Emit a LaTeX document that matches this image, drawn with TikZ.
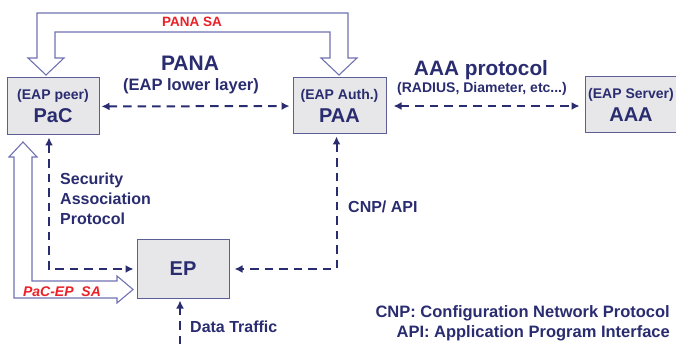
\documentclass[tikz,border=0pt]{standalone}
\usepackage{fontspec}
\setmainfont{Liberation Sans}
\usetikzlibrary{arrows.meta}
\definecolor{navy}{RGB}{42, 44, 112}
\definecolor{boxgray}{RGB}{231, 231, 233}
\definecolor{boxline}{RGB}{92, 94, 150}
\definecolor{saline}{RGB}{112, 114, 178}
\definecolor{sared}{RGB}{236, 32, 40}
\newcommand{\fsz}[1]{\fontsize{#1}{1.15\dimexpr#1pt\relax}\selectfont}
\tikzset{
    entity/.style={draw=boxline, fill=boxgray, line width=1pt,
        minimum width=92pt, minimum height=57pt, inner sep=0pt,
        align=center, text=navy, font=\bfseries\fsz{20}},
    link/.style={navy, line width=2pt, dash pattern=on 8.5pt off 6pt},
    hollow/.style={draw=saline, fill=white, line width=1.1pt, line join=miter},
    caption/.style={text=navy, font=\bfseries, inner sep=0pt},
    salabel/.style={text=sared, font=\bfseries, inner sep=0pt},
    >={Latex[length=8pt, width=8pt]}
}

\begin{document}
\begin{tikzpicture}[x=1pt, y=-1pt]

    \useasboundingbox (0, 0) rectangle (676, 344);

    % security associations (hollow arrows)
    \draw[hollow]
        (37, 58) -- (37, 13) -- (348, 13) -- (348, 58) -- (357, 58) --
        (339, 75) -- (321, 58) -- (330, 58) -- (330, 32) -- (55, 32) --
        (55, 58) -- (64, 58) -- (46, 75) -- (28, 58) -- cycle;
    \node[salabel, font=\bfseries\fsz{13.5}] (panasa) at (192, 22) {PANA SA};

    \draw[hollow]
        (32, 157) -- (32, 281) -- (117, 281) -- (117, 276) -- (133, 289.5) --
        (117, 303) -- (117, 298) -- (14, 298) -- (14, 157) -- (9, 157) --
        (23, 142) -- (37, 157) -- cycle;
    \node[salabel, font=\bfseries\itshape\fsz{14}] (pacepsa) at (62, 292) {PaC-EP\ \ SA};

    % entities
    \node[entity] (pac) at (53, 106.5)
        {{\fsz{14}(EAP peer)}\\PaC};
    \node[entity, minimum width=93pt, minimum height=56pt] (paa) at (339.5, 106)
        {{\fsz{14}(EAP Auth.)}\\PAA};
    \node[entity, minimum height=56pt] (aaa) at (631, 105)
        {{\fsz{14}(EAP Server)}\\AAA};
    \node[entity, minimum height=58pt] (ep) at (183, 269) {EP};

    % protocols
    \draw[link, <->, shorten <=2pt, shorten >=3pt] (pac) -- (paa);
    \node[caption, font=\bfseries\fsz{21}] (pana) at (190, 63) {PANA};
    \node[caption, font=\bfseries\fsz{16.5}] (panall) at (191, 86) {(EAP lower layer)};

    \draw[link, <->, shorten <=7pt, shorten >=5pt] (paa.east) -- (paa.east -| aaa.west);
    \node[caption, font=\bfseries\fsz{20.8}] (aaaproto) at (481, 70) {AAA protocol};
    \node[caption, font=\bfseries\fsz{14}] (radius) at (482, 89) {(RADIUS, Diameter, etc...)};

    \draw[link, <->, shorten <=2pt, shorten >=3pt] ([xshift=-4pt]pac.south) |- (ep.west);
    \node[caption, font=\bfseries\fontsize{16}{20}\selectfont, anchor=west, align=left]
        (sap) at (60, 199) {Security\\Association\\Protocol};

    \draw[link, <->, shorten <=2pt, shorten >=5pt] ([xshift=-3pt]paa.south) |- (ep.east);
    \node[caption, font=\bfseries\fsz{16}, anchor=west] (cnp) at (348, 207) {CNP/ API};

    \coordinate (traffic) at (180, 344);
    \draw[link, ->, shorten >=2pt] (traffic) -- (traffic |- ep.south);
    \node[caption, font=\bfseries\fsz{16}, anchor=west] (data) at (190, 327) {Data Traffic};

    % legend
    \node[caption, font=\bfseries\fsz{16.5}, anchor=east] (cnpdef) at (670, 313)
        {CNP: Configuration Network Protocol};
    \node[caption, font=\bfseries\fsz{16.5}, anchor=east] (apidef) at (670, 333)
        {API: Application Program Interface};

\end{tikzpicture}
\end{document}
